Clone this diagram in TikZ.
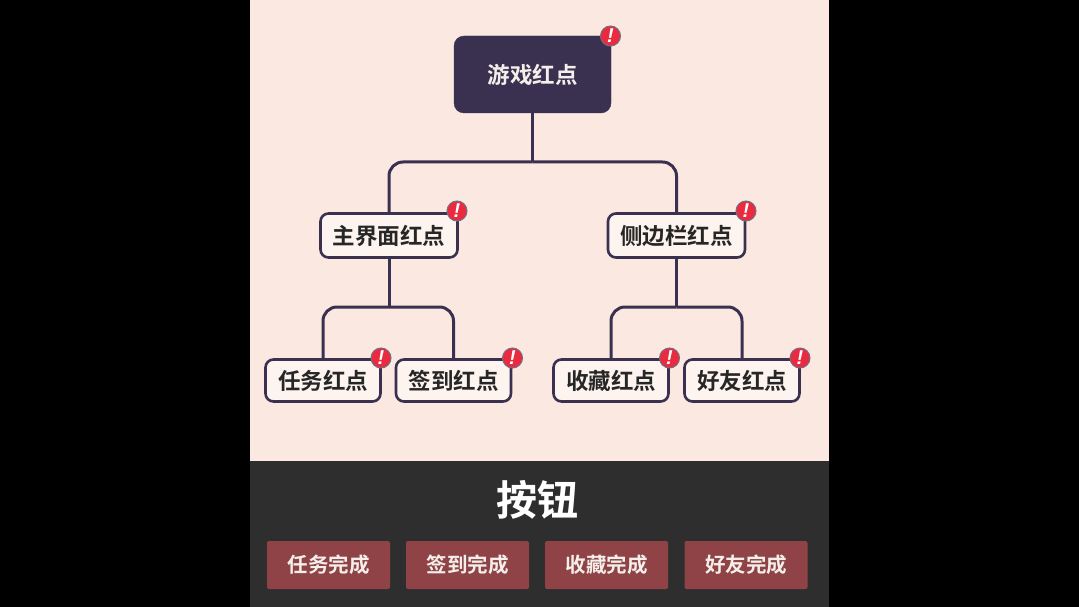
\documentclass[tikz,border=0pt]{standalone}
\usepackage{fontspec}
\usepackage{xcolor}
\usetikzlibrary{positioning}
\setmainfont{Noto Sans CJK SC}[BoldFont={Noto Sans CJK SC Bold}]
\newfontfamily\dotfont{Liberation Sans}
\definecolor{ink}{HTML}{3A3050}
\definecolor{paper}{HTML}{FBE8E0}
\definecolor{panel}{HTML}{2E2E2E}
\definecolor{btn}{HTML}{8F4346}
\definecolor{dot}{HTML}{EA2A3E}
\definecolor{soft}{HTML}{F4EFEA}

\begin{document}
\begin{tikzpicture}[x=1pt, y=-1pt,
      wire/.style={draw=ink, line width=3pt, rounded corners=14pt},
      rootbox/.style={rectangle, rounded corners=10pt, fill=ink, draw=ink, minimum width=157pt,
                  minimum height=77pt, inner sep=0pt, text=soft, font=\fontsize{22.5}{26}\selectfont\bfseries},
      midbox/.style={rectangle, rounded corners=8pt, fill=paper!50!white, draw=ink, line width=2.6pt,
                  minimum width=137pt, minimum height=44pt, inner sep=0pt, text=black!85,
                  font=\fontsize{22.5}{26}\selectfont\bfseries},
      leafbox/.style={midbox, minimum width=115pt, minimum height=42pt},
      btnbox/.style={rectangle, rounded corners=2pt, fill=btn, minimum width=123pt, minimum height=48pt,
                  inner sep=0pt, text=soft, font=\fontsize{20.5}{24}\selectfont\bfseries},
      badge/.style={circle, fill=dot, draw=ink!70, line width=1pt, minimum size=20pt, inner sep=0pt,
                  text=white, font=\dotfont\fontsize{20}{20}\selectfont\bfseries\itshape}]
      \useasboundingbox (0,0) rectangle (1079,607);
      \fill[black] (0,0) rectangle (1079,607);
      \fill[paper] (250,0) rectangle (829,461);
      \fill[panel] (250,461) rectangle (829,607);
      \coordinate (gamejoin) at (532.5,162);
      \coordinate (mainjoin) at (389,307);
      \coordinate (sidejoin) at (676.5,307);
      % tree
      \node[rootbox] (game) at (532.5,74.5) {游戏红点};
      \node[midbox] (main) at (389,235.5) {主界面红点};
      \node[midbox] (side) at (676.5,235.5) {侧边栏红点};
      \foreach \name/\x/\lab in {task/323/任务红点,sign/453.5/签到红点,fav/611/收藏红点,friend/742/好友红点}
        \node[leafbox] (\name) at (\x,380.5) {\lab};
      \draw[wire] (game.south) -- (gamejoin);
      \draw[wire] (gamejoin) -| (main.north);
      \draw[wire] (gamejoin) -| (side.north);
      \draw[wire] (main.south) -- (mainjoin);
      \draw[wire] (mainjoin) -| (task.north);
      \draw[wire] (mainjoin) -| (sign.north);
      \draw[wire] (side.south) -- (sidejoin);
      \draw[wire] (sidejoin) -| (fav.north);
      \draw[wire] (sidejoin) -| (friend.north);
      % red dots
      \foreach \name/\x/\y in {dgame/610.5/36,dmain/457/211,dside/746/211,dtask/381/358,dsign/512.5/358,dfav/669.5/358,dfriend/800/358}
        \node[badge] (\name) at (\x,\y) {!};
      % bottom panel
      \node[text=white, font=\fontsize{41}{46}\selectfont\bfseries] (title) at (537,500) {按钮};
      \foreach \name/\x/\lab in {btask/328.5/任务完成,bsign/467.5/签到完成,bfav/606.5/收藏完成,bfriend/746/好友完成}
        \node[btnbox] (\name) at (\x,565) {\lab};
\end{tikzpicture}
\end{document}
